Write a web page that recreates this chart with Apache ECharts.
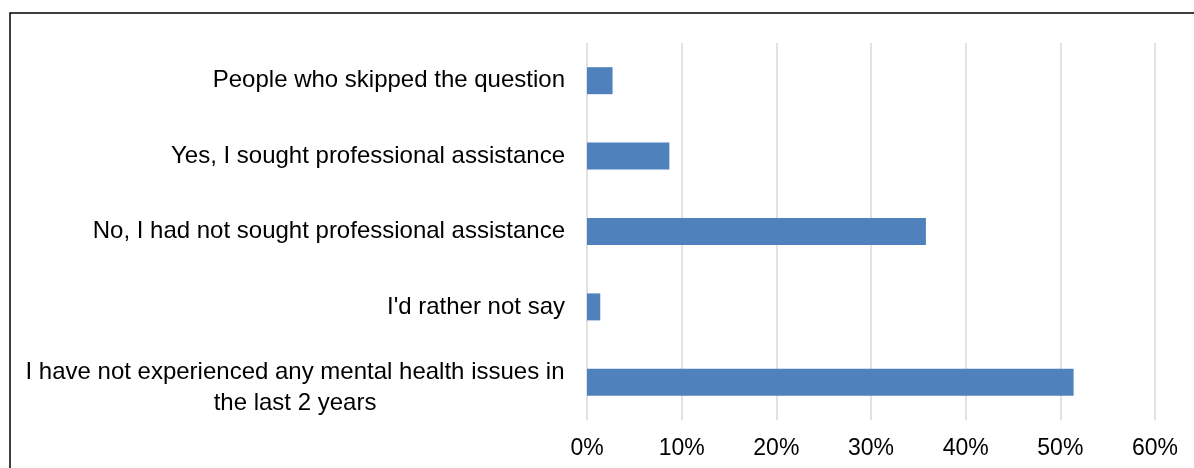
<!DOCTYPE html>
<html>
<head>
<meta charset="utf-8">
<script src="https://cdn.jsdelivr.net/npm/echarts@6/dist/echarts.min.js"></script>
<style>
  html, body { margin: 0; padding: 0; background: #fff; }
  #chart { width: 1194px; height: 468px; }
</style>
</head>
<body>
<div id="chart"></div>
<script>
// categories, top to bottom
const categories = [
  "People who skipped the question",
  "Yes, I sought professional assistance",
  "No, I had not sought professional assistance",
  "I'd rather not say",
  "I have not experienced any mental health issues in\nthe last 2 years"
];
// share of respondents, %
const shares = [2.7, 8.7, 35.8, 1.4, 51.4];
const tickLabels = ["0%", "10%", "20%", "30%", "40%", "50%", "60%"];

const chart = echarts.init(document.getElementById("chart"));
const font = "'Liberation Sans', Arial, sans-serif";

// the two-line label sits a little lower than its bar in the original
const yData = categories.map(c => c.indexOf("\n") >= 0
  ? { value: c, textStyle: { padding: [12, 0, 0, 0] } }
  : c);

chart.setOption({
  animation: false,
  graphic: [{
    type: "rect",
    shape: { x: 10, y: 13, width: 1400, height: 700 },
    style: { fill: "none", stroke: "#000", lineWidth: 1.5 },
    silent: true
  }],
  grid: { left: 587, right: 39, top: 43, bottom: 48, containLabel: false },
  xAxis: {
    type: "value",
    min: 0,
    max: 60,
    interval: 10,
    axisLine: { show: false },
    axisTick: { show: false },
    axisLabel: {
      margin: 17,
      color: "#000",
      fontSize: 23,
      fontFamily: font,
      formatter: (v) => tickLabels[Math.round(v / 10)]
    },
    splitLine: { show: true, lineStyle: { color: "#d9d9d9", width: 1.5 } }
  },
  yAxis: {
    type: "category",
    inverse: true,
    data: yData,
    axisLine: { show: false },
    axisTick: { show: false },
    axisLabel: {
      margin: 22,
      color: "#000",
      fontSize: 24,
      fontFamily: font,
      formatter: (v) => {
        if (v.indexOf("\n") >= 0) {
          return v.split("\n").map(s => "{c|" + s + "}").join("\n");
        }
        return v;
      },
      rich: {
        c: { width: 540, align: "center", fontSize: 24, fontFamily: font, color: "#000", lineHeight: 31 }
      }
    }
  },
  series: [{
    type: "bar",
    data: shares,
    barWidth: 27,
    itemStyle: { color: "#4f81bd" }
  }]
});
</script>
</body>
</html>
